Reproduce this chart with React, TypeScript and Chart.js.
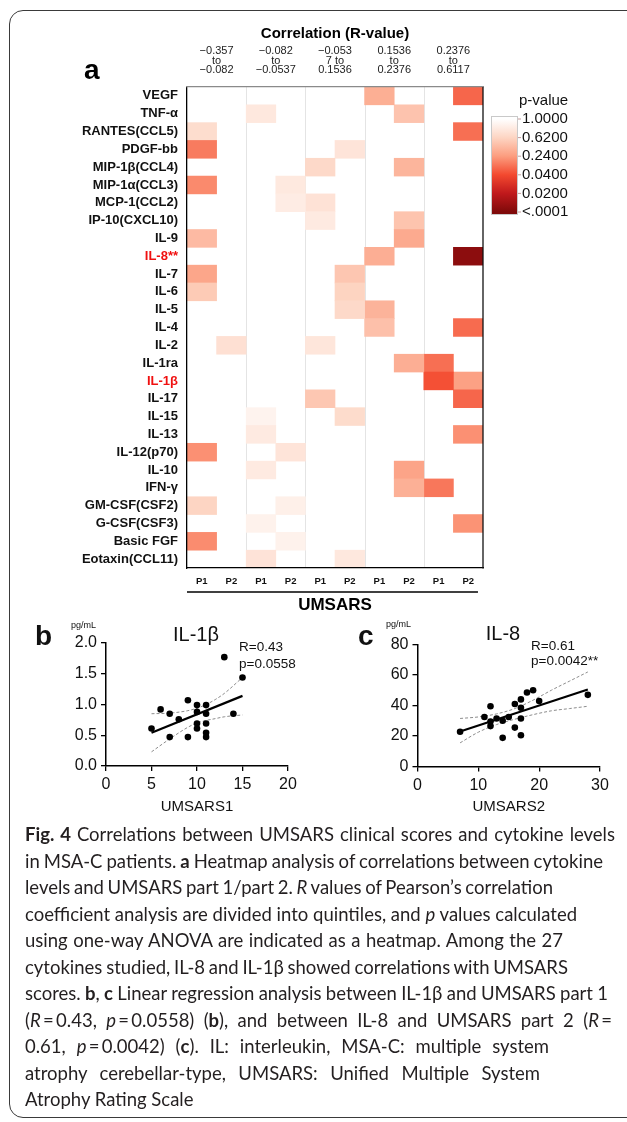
import React, { useEffect, useLayoutEffect, useRef } from 'react';
import { Chart, registerables } from 'chart.js';

Chart.register(...registerables);

// ---------------- DATA ----------------
const cytokines = [
  'VEGF', 'TNF-α', 'RANTES(CCL5)', 'PDGF-bb', 'MIP-1β(CCL4)', 'MIP-1α(CCL3)', 'MCP-1(CCL2)',
  'IP-10(CXCL10)', 'IL-9', 'IL-8**', 'IL-7', 'IL-6', 'IL-5', 'IL-4', 'IL-2', 'IL-1ra', 'IL-1β',
  'IL-17', 'IL-15', 'IL-13', 'IL-12(p70)', 'IL-10', 'IFN-γ', 'GM-CSF(CSF2)', 'G-CSF(CSF3)',
  'Basic FGF', 'Eotaxin(CCL11)',
];
const highlightedCytokines = ['IL-8**', 'IL-1β'];

// R-value quintile ranges (column groups)
const rValueRanges = [
  ['−0.357', 'to', '−0.082'],
  ['−0.082', 'to', '−0.0537'],
  ['−0.053', '7 to', '0.1536'],
  ['0.1536', 'to', '0.2376'],
  ['0.2376', 'to', '0.6117'],
];
const partLabels = ['P1', 'P2'];

// quintile (1..5) of R for UMSARS part 1 / part 2, and its p-value
const part1Quintile = [4, 2, 1, 1, 3, 1, 3, 3, 1, 4, 1, 1, 4, 4, 3, 5, 5, 3, 2, 2, 1, 2, 5, 1, 2, 1, 2];
const part1P = [0.36, 0.79, 0.69, 0.16, 0.66, 0.195, 0.74, 0.81, 0.44, 0.355, 0.30, 0.55, 0.39, 0.48, 0.77, 0.13, 0.0558, 0.525, 0.89, 0.81, 0.21, 0.81, 0.15, 0.62, 0.88, 0.20, 0.75];
const part2Quintile = [5, 4, 5, 3, 4, 2, 2, 4, 4, 5, 3, 3, 3, 5, 1, 4, 5, 5, 3, 5, 2, 4, 4, 2, 5, 2, 3];
const part2P = [0.11, 0.50, 0.13, 0.76, 0.40, 0.80, 0.83, 0.505, 0.33, 0.0042, 0.52, 0.61, 0.66, 0.12, 0.72, 0.355, 0.27, 0.11, 0.68, 0.21, 0.76, 0.29, 0.37, 0.86, 0.215, 0.88, 0.79];

// p-value colour scale
const pLegendTicks = ['1.0000', '0.6200', '0.2400', '0.0400', '0.0200', '<.0001'];
const pLegendValues = [1, 0.62, 0.24, 0.04, 0.02, 0.0001];
const pLegendColors = ['#ffffff', '#fdd5c3', '#fc9d7f', '#f3492f', '#c0191c', '#7f0a0a'];

// panel b: IL-1β vs UMSARS1
const umsars1 = [5, 6, 7, 7, 8, 9, 9, 10, 10, 10, 10, 11, 11, 11, 11, 11, 13, 14, 15];
const il1b = [0.61, 0.92, 0.85, 0.47, 0.76, 1.07, 0.47, 0.99, 0.88, 0.69, 0.61, 0.99, 0.85, 0.69, 0.54, 0.47, 1.77, 0.85, 1.44];
const il1bFitX = [5, 15];
const il1bFitY = [0.54, 1.14];
const il1bBandX = [5, 7, 9, 10, 11, 12, 13, 15];
const il1bUpper = [0.85, 0.86, 0.90, 0.94, 1.00, 1.08, 1.18, 1.44];
const il1bLower = [0.23, 0.44, 0.63, 0.70, 0.74, 0.77, 0.80, 0.83];

// panel c: IL-8 vs UMSARS2
const umsars2 = [7, 11, 12, 12, 12, 13, 14, 14, 15, 16, 16, 17, 17, 17, 17, 18, 19, 20, 28];
const il8 = [22.8, 32.5, 39.5, 29.5, 26.5, 31.5, 30, 18.8, 32.5, 41, 25.5, 44, 38.5, 31.5, 20.5, 48.5, 50, 43, 47];
const il8FitX = [7, 28];
const il8FitY = [23, 50.5];
const il8BandX = [7, 10, 13, 16, 19, 22, 25, 28];
const il8Upper = [31.5, 32.5, 34.5, 38, 43.5, 50, 56, 62];
const il8Lower = [15.5, 22.5, 27.5, 31, 34, 36.5, 38, 39.5];

// ---------------- HELPERS ----------------
const FONT = '"Liberation Sans", Arial, Helvetica, sans-serif';

const hexToRgb = (h: string) => [1, 3, 5].map((i) => parseInt(h.slice(i, i + 2), 16));
function pToColor(p: number) {
  const cs = pLegendColors.map(hexToRgb);
  const v = pLegendValues;
  let c = cs[cs.length - 1];
  if (p >= v[0]) c = cs[0];
  else {
    for (let i = 0; i < v.length - 1; i++) {
      if (p <= v[i] && p >= v[i + 1]) {
        const t = (v[i] - p) / (v[i] - v[i + 1]);
        c = cs[i].map((a, k) => Math.round(a + (cs[i + 1][k] - a) * t));
        break;
      }
    }
  }
  return `rgb(${c[0]},${c[1]},${c[2]})`;
}

const heatColumns = [1, 2, 3, 4, 5].flatMap((g) => [1, 2].map((part) => ({ g, part })));
const colLabels = heatColumns.map((c) => partLabels[c.part - 1]);

const heatDecor = {
  id: 'heatDecor',
  beforeDatasetsDraw(chart: any) {
    const { ctx, chartArea: a, scales } = chart;
    const x = scales.x;
    ctx.save();
    ctx.strokeStyle = '#e4e4e4';
    ctx.lineWidth = 1;
    for (let v = 2; v < 10; v += 2) {
      const px = Math.round(x.getPixelForValue(v)) + 0.5;
      ctx.beginPath();
      ctx.moveTo(px, a.top);
      ctx.lineTo(px, a.bottom);
      ctx.stroke();
    }
    ctx.restore();
  },
  afterDraw(chart: any) {
    const { ctx, chartArea: a, scales } = chart;
    const x = scales.x;
    ctx.save();
    // right border of heatmap
    ctx.strokeStyle = '#111';
    ctx.lineWidth = 1.3;
    ctx.beginPath();
    ctx.moveTo(a.right, a.top);
    ctx.lineTo(a.right, a.bottom + 0.6);
    ctx.stroke();
    // underline under P1/P2
    ctx.lineWidth = 1.6;
    ctx.strokeStyle = '#000';
    ctx.beginPath();
    ctx.moveTo(a.left, a.bottom + 24);
    ctx.lineTo(x.getPixelForValue(9.83), a.bottom + 24);
    ctx.stroke();
    // panel letter
    ctx.fillStyle = '#000';
    ctx.font = `bold 28px ${FONT}`;
    ctx.textAlign = 'left';
    ctx.textBaseline = 'alphabetic';
    ctx.fillText('a', 84, 79);
    // colour bar legend
    const cbX = a.right + 8;
    const cbY = 116;
    const cbW = 27;
    const cbH = 99;
    const n = pLegendColors.length;
    const inset = 3;
    const step = (cbH - 2 * inset) / (n - 1);
    const grad = ctx.createLinearGradient(0, cbY, 0, cbY + cbH);
    pLegendColors.forEach((c, i) => grad.addColorStop((inset + i * step) / cbH, c));
    ctx.fillStyle = grad;
    ctx.fillRect(cbX, cbY, cbW, cbH);
    ctx.strokeStyle = '#c9c9c9';
    ctx.lineWidth = 1;
    ctx.strokeRect(cbX + 0.5, cbY + 0.5, cbW - 1, cbH - 1);
    ctx.font = `15px ${FONT}`;
    ctx.fillStyle = '#111';
    ctx.textBaseline = 'middle';
    pLegendTicks.forEach((t, i) => {
      const y = cbY + inset + i * step;
      ctx.strokeStyle = '#c49a9a';
      ctx.beginPath();
      ctx.moveTo(cbX + cbW, y);
      ctx.lineTo(cbX + cbW + 3, y);
      ctx.stroke();
      ctx.fillText(t, cbX + cbW + 4, y);
    });
    ctx.fillText('p-value', cbX + 28, 101);
    ctx.restore();
  },
};

function heatConfig(): any {
  return {
    type: 'bar',
    data: {
      labels: cytokines,
      datasets: heatColumns.map((col) => ({
        data: cytokines.map(() => 1),
        backgroundColor: cytokines.map((_, r) => {
          const q = col.part === 1 ? part1Quintile[r] : part2Quintile[r];
          const p = col.part === 1 ? part1P[r] : part2P[r];
          return q === col.g ? pToColor(p) : 'rgba(255,255,255,0)';
        }),
        borderWidth: 0,
        barPercentage: 1,
        categoryPercentage: 1,
      })),
    },
    options: {
      indexAxis: 'y',
      responsive: false,
      animation: false,
      events: [],
      layout: { padding: { left: 0, top: 0, right: 144, bottom: 0 } },
      plugins: { legend: { display: false }, tooltip: { enabled: false } },
      scales: {
        y: {
          type: 'category',
          stacked: true,
          offset: true,
          grid: { display: false, drawTicks: false, tickLength: 0 },
          border: { display: true, color: '#000', width: 1.3, z: 1 },
          ticks: {
            autoSkip: false,
            padding: 9,
            font: { family: FONT, size: 13, weight: 'bold' },
            color: (ctx: any) => (highlightedCytokines.includes(cytokines[ctx.index]) ? '#f01010' : '#111'),
          },
          afterFit: (s: any) => {
            s.width = 187;
            s.paddingTop = 0;
            s.paddingBottom = 0;
          },
        },
        x: {
          type: 'linear',
          position: 'bottom',
          stacked: true,
          min: 0,
          max: 10,
          grid: { display: false, drawTicks: false, tickLength: 0 },
          border: { display: true, color: '#000', width: 1.3, z: 1 },
          afterBuildTicks: (s: any) => {
            s.ticks = colLabels.map((_, i) => ({ value: i + 0.5 }));
          },
          ticks: {
            autoSkip: false,
            maxRotation: 0,
            padding: 7.5,
            font: { family: FONT, size: 9.5, weight: 'bold' },
            color: '#111',
            callback: (_v: any, i: number) => colLabels[i],
          },
          title: {
            display: true,
            text: 'UMSARS',
            color: '#000',
            font: { family: FONT, size: 17, weight: 'bold' },
            padding: { top: 0, bottom: 9 },
          },
          afterFit: (s: any) => {
            s.height = 57;
            s.paddingLeft = 0;
            s.paddingRight = 0;
          },
        },
        xt: {
          type: 'linear',
          position: 'top',
          min: 0,
          max: 10,
          grid: { display: false, drawTicks: false, tickLength: 0 },
          border: { display: true, color: '#8a8a8a', width: 1.3, z: 1 },
          afterBuildTicks: (s: any) => {
            s.ticks = rValueRanges.map((_, i) => ({ value: 2 * i + 1 }));
          },
          ticks: {
            autoSkip: false,
            maxRotation: 0,
            padding: 12,
            font: { family: FONT, size: 11, lineHeight: 0.86 },
            color: '#222',
            callback: (_v: any, i: number) => rValueRanges[i],
          },
          title: {
            display: true,
            text: 'Correlation (R-value)',
            color: '#000',
            font: { family: FONT, size: 15, weight: 'bold' },
            padding: { top: 25, bottom: 0 },
          },
          afterFit: (s: any) => {
            s.height = 87;
            s.paddingLeft = 0;
            s.paddingRight = 0;
          },
        },
      },
    },
    plugins: [heatDecor],
  };
}

type TextItem = { text: string; x: number; y: number; font: string; align?: string };
function makeTextPlugin(items: TextItem[]) {
  return {
    id: 'panelText',
    afterDraw(chart: any) {
      const { ctx } = chart;
      ctx.save();
      ctx.fillStyle = '#111';
      ctx.textBaseline = 'alphabetic';
      items.forEach((it) => {
        ctx.font = it.font;
        ctx.textAlign = it.align || 'left';
        ctx.fillText(it.text, it.x, it.y);
      });
      ctx.restore();
    },
  };
}

function scatterConfig(p: any): any {
  const toPts = (xs: number[], ys: number[]) => xs.map((x, i) => ({ x, y: ys[i] }));
  const axisCommon = {
    grid: { display: true, drawOnChartArea: false, drawTicks: true, tickLength: 5, color: '#000', lineWidth: 1.3 },
    border: { display: true, color: '#000', width: 1.5 },
  };
  return {
    type: 'scatter',
    data: {
      datasets: [
        { data: toPts(p.xs, p.ys), pointRadius: 3.3, pointBackgroundColor: '#000', pointBorderWidth: 0, showLine: false },
        { data: toPts(p.fitX, p.fitY), showLine: true, borderColor: '#000', borderWidth: 2.2, pointRadius: 0 },
        { data: toPts(p.bandX, p.upper), showLine: true, borderColor: '#8c8c8c', borderWidth: 1, borderDash: [3, 2], pointRadius: 0, cubicInterpolationMode: 'monotone' },
        { data: toPts(p.bandX, p.lower), showLine: true, borderColor: '#8c8c8c', borderWidth: 1, borderDash: [3, 2], pointRadius: 0, cubicInterpolationMode: 'monotone' },
      ],
    },
    options: {
      responsive: false,
      animation: false,
      events: [],
      layout: { padding: p.padding },
      plugins: { legend: { display: false }, tooltip: { enabled: false } },
      scales: {
        x: {
          type: 'linear',
          min: p.xMin,
          max: p.xMax,
          ...axisCommon,
          ticks: { stepSize: p.xStep, padding: 4, maxRotation: 0, color: '#111', font: { family: FONT, size: 16 } },
          title: { display: true, text: p.xTitle, color: '#111', font: { family: FONT, size: 15 }, padding: { top: 0, bottom: 9 } },
          afterFit: (s: any) => {
            s.height = p.xHeight;
            s.paddingLeft = 0;
            s.paddingRight = 0;
          },
        },
        y: {
          type: 'linear',
          min: p.yMin,
          max: p.yMax,
          ...axisCommon,
          ticks: { stepSize: p.yStep, padding: 4, color: '#111', font: { family: FONT, size: 16 }, callback: p.yFormat },
          afterFit: (s: any) => {
            s.width = p.yWidth;
            s.paddingTop = 0;
            s.paddingBottom = 0;
          },
        },
      },
    },
    plugins: [makeTextPlugin(p.texts)],
  };
}

const panelB = {
  xs: umsars1, ys: il1b, fitX: il1bFitX, fitY: il1bFitY, bandX: il1bBandX, upper: il1bUpper, lower: il1bLower,
  xMin: 0, xMax: 20, xStep: 5, yMin: 0, yMax: 2, yStep: 0.5, yFormat: (v: number) => v.toFixed(1),
  xTitle: 'UMSARS1', yWidth: 106, xHeight: 59, padding: { left: 0, top: 33, right: 32, bottom: 0 },
  texts: [
    { text: 'b', x: 35, y: 35, font: `bold 28px ${FONT}` },
    { text: 'pg/mL', x: 71, y: 18, font: `9px ${FONT}` },
    { text: 'IL-1β', x: 196, y: 31, font: `20px ${FONT}`, align: 'center' },
    { text: 'R=0.43', x: 239, y: 41, font: `13.5px ${FONT}` },
    { text: 'p=0.0558', x: 239, y: 58, font: `13.5px ${FONT}` },
  ],
};

const panelC = {
  xs: umsars2, ys: il8, fitX: il8FitX, fitY: il8FitY, bandX: il8BandX, upper: il8Upper, lower: il8Lower,
  xMin: 0, xMax: 30, xStep: 10, yMin: 0, yMax: 80, yStep: 20, yFormat: (v: number) => String(v),
  xTitle: 'UMSARS2', yWidth: 107.5, xHeight: 58.5, padding: { left: 0, top: 34.5, right: 27, bottom: 0 },
  texts: [
    { text: 'c', x: 48, y: 35, font: `bold 28px ${FONT}` },
    { text: 'pg/mL', x: 76, y: 17, font: `9px ${FONT}` },
    { text: 'IL-8', x: 193, y: 30, font: `20px ${FONT}`, align: 'center' },
    { text: 'R=0.61', x: 221, y: 40, font: `13.5px ${FONT}` },
    { text: 'p=0.0042**', x: 221, y: 55, font: `13.5px ${FONT}` },
  ],
};

// ---------------- CAPTION ----------------
const R = () => <i>R</i>;
const P = () => <i>p</i>;
const captionLines: React.ReactNode[] = [
  <><b>Fig. 4</b> Correlations between UMSARS clinical scores and cytokine levels</>,
  <>in MSA-C patients. <b>a</b> Heatmap analysis of correlations between cytokine</>,
  <>levels and UMSARS part 1/part 2. <R /> values of Pearson’s correlation</>,
  <>coefficient analysis are divided into quintiles, and <P /> values calculated</>,
  <>using one-way ANOVA are indicated as a heatmap. Among the 27</>,
  <>cytokines studied, IL-8 and IL-1β showed correlations with UMSARS</>,
  <>scores. <b>b</b>, <b>c</b> Linear regression analysis between IL-1β and UMSARS part 1</>,
  <>(<R />{'\u2009=\u20090.43, '}<P />{'\u2009=\u20090.0558) ('}<b>b</b>), and between IL-8 and UMSARS part 2 (<R />{'\u2009='}</>,
  <>0.61, <P />{'\u2009=\u20090.0042) ('}<b>c</b>). IL: interleukin, MSA-C: multiple system</>,
  <>atrophy cerebellar-type, UMSARS: Unified Multiple System</>,
  <>Atrophy Rating Scale</>,
];
const captionLineRight = [615, 603, 553, 577, 563, 568, 608, 612, 549, 540, 0];

function Caption() {
  const refs = useRef<(HTMLSpanElement | null)[]>([]);
  useLayoutEffect(() => {
    const fit = () => {
      refs.current.forEach((el, i) => {
        const right = captionLineRight[i];
        if (!el || !right) return;
        el.style.wordSpacing = '0px';
        const r = el.getBoundingClientRect();
        const n = ((el.textContent || '').match(/ /g) || []).length;
        if (n) el.style.wordSpacing = `${(right - r.right) / n}px`;
      });
    };
    fit();
    const f: any = (document as any).fonts;
    if (f && f.ready) f.ready.then(fit);
  }, []);
  return (
    <div
      style={{
        position: 'absolute',
        left: 25,
        top: 821,
        fontFamily: 'Lato, "Open Sans", sans-serif',
        fontSize: 18.5,
        lineHeight: '26.5px',
        color: '#231f20',
      }}
    >
      {captionLines.map((ln, i) => (
        <div key={i} style={{ whiteSpace: 'nowrap' }}>
          <span ref={(el) => { refs.current[i] = el; }}>{ln}</span>
        </div>
      ))}
    </div>
  );
}

export default function App() {
  const heatRef = useRef<HTMLCanvasElement | null>(null);
  const bRef = useRef<HTMLCanvasElement | null>(null);
  const cRef = useRef<HTMLCanvasElement | null>(null);

  useEffect(() => {
    const charts = [
      new Chart(heatRef.current as HTMLCanvasElement, heatConfig()),
      new Chart(bRef.current as HTMLCanvasElement, scatterConfig(panelB)),
      new Chart(cRef.current as HTMLCanvasElement, scatterConfig(panelC)),
    ];
    return () => charts.forEach((c) => c.destroy());
  }, []);

  return (
    <div style={{ position: 'absolute', left: 0, top: 0, width: 627, height: 1122, overflow: 'hidden', background: '#fff' }}>
      <div
        style={{
          position: 'absolute',
          left: 9,
          top: 10,
          width: 720,
          height: 1108,
          border: '1.3px solid #3a3a3a',
          borderRadius: 14,
          boxSizing: 'border-box',
        }}
      />
      <canvas ref={heatRef} width={627} height={625} style={{ position: 'absolute', left: 0, top: 0, width: 627, height: 625 }} />
      <canvas ref={bRef} width={320} height={215} style={{ position: 'absolute', left: 0, top: 610, width: 320, height: 215 }} />
      <canvas ref={cRef} width={317} height={215} style={{ position: 'absolute', left: 310, top: 610, width: 317, height: 215 }} />
      <Caption />
    </div>
  );
}
